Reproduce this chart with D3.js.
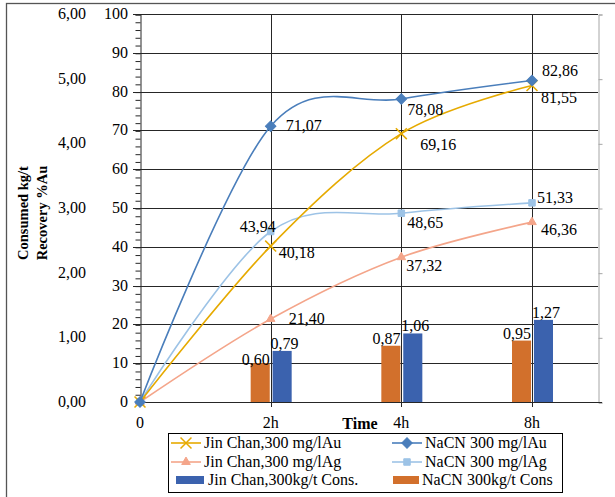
<!DOCTYPE html>
<html>
<head>
<meta charset="utf-8">
<script src="https://cdn.jsdelivr.net/npm/d3@7"></script>
<style>
  body { margin: 0; background: #fff; }
</style>
</head>
<body>
<svg id="svg" width="615" height="497" font-family="'Liberation Serif', 'Times New Roman', Tinos, 'DejaVu Serif', serif"></svg>
<script>
// categories (time)
var times = ["0", "2h", "4h", "8h"];

// recovery %  (left axis)
var jinChanAu = [0, 40.18, 69.16, 81.55];
var nacnAu    = [0, 71.07, 78.08, 82.86];
var jinChanAg = [0, 21.40, 37.32, 46.36];
var nacnAg    = [0, 43.94, 48.65, 51.33];

// consumption kg/t (secondary axis)
var barTimes     = ["2h", "4h", "8h"];
var nacnCons     = [0.60, 0.87, 0.95];
var jinChanCons  = [0.79, 1.06, 1.27];

var leftTicks  = [0, 10, 20, 30, 40, 50, 60, 70, 80, 90, 100];
var rightTicks = [0, 1, 2, 3, 4, 5, 6];

function draw(){
	var svg = d3.select("#svg");
	var fmt = function(v){ return d3.format(".2f")(v).replace(".", ","); };

	// outer frame (cut off right / bottom)
	svg.append("rect")
		.attr("x", 6.5).attr("y", 3.5)
		.attr("width", 640).attr("height", 520)
		.attr("fill", "none").attr("stroke", "#555").attr("stroke-width", 1.3);

	var left = 140, right = 598, top = 14, bottom = 402;

	var scaleX = d3.scalePoint().domain(times).range([left, 532]);
	var scaleY = d3.scaleLinear().domain([0, 100]).range([bottom, top]);
	var scaleY2 = d3.scaleLinear().domain([0, 6]).range([bottom, top]);

	var g = svg.append("g");

	// horizontal grid
	g.selectAll(".hgrid").data(leftTicks.slice(1)).enter().append("line")
		.attr("x1", left - 7).attr("x2", right)
		.attr("y1", function(d){ return Math.round(scaleY(d)) + 0.5; })
		.attr("y2", function(d){ return Math.round(scaleY(d)) + 0.5; })
		.attr("stroke", "#262626").attr("stroke-width", 1);

	// vertical grid
	g.selectAll(".vgrid").data(times.slice(1)).enter().append("line")
		.attr("x1", function(d){ return Math.round(scaleX(d)) + 0.5; })
		.attr("x2", function(d){ return Math.round(scaleX(d)) + 0.5; })
		.attr("y1", top).attr("y2", bottom + 5)
		.attr("stroke", "#262626").attr("stroke-width", 1);

	// left axis with minor ticks
	var axisY = d3.axisLeft(scaleY).tickValues(d3.range(0, 101, 2)).tickSize(5).tickFormat("");
	var gAxisY = g.append("g").attr("transform", "translate(" + (left + 0.5) + ",0.5)").call(axisY);
	gAxisY.selectAll("line").attr("stroke", "#262626");
	gAxisY.select(".domain").attr("stroke", "#262626");
	g.selectAll(".ylab").data(leftTicks).enter().append("text")
		.attr("x", 128).attr("y", function(d){ return scaleY(d) + 5; })
		.attr("text-anchor", "end").attr("font-size", 16).text(function(d){ return d; });

	// secondary axis: ticks on the right, labels far left
	var axisY2 = d3.axisRight(scaleY2).tickValues(rightTicks).tickSize(4).tickFormat("");
	var gAxisY2 = g.append("g").attr("transform", "translate(" + (right + 0.5) + ",0.5)").call(axisY2);
	gAxisY2.selectAll("line").attr("stroke", "#a6a6a6");
	gAxisY2.select(".domain").attr("stroke", "#a6a6a6");
	g.selectAll(".y2lab").data(rightTicks).enter().append("text")
		.attr("x", 86).attr("y", function(d){ return scaleY2(d) + 5; })
		.attr("text-anchor", "end").attr("font-size", 16).text(function(d){ return fmt(d); });

	// x axis
	g.append("line").attr("x1", left).attr("x2", right + 4)
		.attr("y1", bottom + 0.5).attr("y2", bottom + 0.5).attr("stroke", "#262626");
	g.selectAll(".xlab").data(times).enter().append("text")
		.attr("x", function(d){ return scaleX(d); }).attr("y", 428)
		.attr("text-anchor", "middle").attr("font-size", 16).text(function(d){ return d; });
	g.append("text").attr("x", 360).attr("y", 429).attr("text-anchor", "middle")
		.attr("font-size", 16).attr("font-weight", "bold").text("Time");

	// y title
	var yt = g.append("text").attr("transform", "translate(28,213) rotate(-90)")
		.attr("text-anchor", "middle").attr("font-size", 14.5).attr("font-weight", "bold");
	yt.append("tspan").attr("x", 0).attr("dy", 0).text("Consumed kg/t");
	yt.append("tspan").attr("x", 0).attr("dy", 19).text("Recovery %Au");

	// bars
	var barSeries = [
		{name: "NaCN 300kg/t Cons", values: nacnCons, color: "#D2702C"},
		{name: "Jin Chan,300kg/t Cons.", values: jinChanCons, color: "#3B62AE"}
	];
	var inner = d3.scaleBand().domain(barSeries.map(function(s){ return s.name; }))
		.range([-20, 21]).paddingInner(0.13);
	barSeries.forEach(function(s, si){
		var gb = g.append("g");
		gb.selectAll("rect").data(s.values).enter().append("rect")
			.attr("x", function(d, i){ return scaleX(barTimes[i]) + inner(s.name); })
			.attr("y", function(d){ return scaleY2(d); })
			.attr("width", inner.bandwidth())
			.attr("height", function(d){ return bottom - scaleY2(d); })
			.attr("fill", s.color);
		gb.selectAll("text").data(s.values).enter().append("text")
			.attr("x", function(d, i){
				var x0 = scaleX(barTimes[i]) + inner(s.name);
				return si == 0 ? x0 + inner.bandwidth() : x0 - 2;
			})
			.attr("y", function(d, i){ return scaleY2(d) - (si == 0 && i == 0 ? -2 : 2); })
			.attr("text-anchor", si == 0 ? "end" : "start")
			.attr("font-size", 16).text(function(d){ return fmt(d); });
	});

	// lines
	var lineSeries = [
		{name: "Jin Chan,300 mg/lAg", values: jinChanAg, color: "#F4A58A", marker: "tri",
			offs: [[18, 5], [5, 14], [9, 13]]},
		{name: "NaCN 300 mg/lAg", values: nacnAg, color: "#9DC3E6", marker: "square",
			offs: [[-31, 0], [6, 15], [5, 0]]},
		{name: "Jin Chan,300 mg/lAu", values: jinChanAu, color: "#E6AA00", marker: "x",
			offs: [[8, 12], [19, 16], [9, 17]]},
		{name: "NaCN 300 mg/lAu", values: nacnAu, color: "#4A7EBB", marker: "diamond",
			offs: [[15, 5], [6, 16], [10, -5]]}
	];

	var line = d3.line()
		.x(function(d, i){ return scaleX(times[i]); })
		.y(function(d){ return scaleY(d); })
		.curve(d3.curveCardinal.tension(0));

	function marker(sel, type, color){
		if (type == "x") {
			sel.attr("d", d3.symbol().type(d3.symbolX).size(80)())
				.attr("fill", "none").attr("stroke", color).attr("stroke-width", 1.5);
		} else if (type == "diamond") {
			sel.attr("d", d3.symbol().type(d3.symbolSquare).size(55)())
				.attr("fill", color).attr("stroke", color);
		} else if (type == "square") {
			sel.attr("d", d3.symbol().type(d3.symbolSquare).size(42)())
				.attr("fill", color).attr("stroke", color);
		} else {
			sel.attr("d", d3.symbol().type(d3.symbolTriangle).size(32)())
				.attr("fill", color).attr("stroke", color);
		}
	}

	lineSeries.forEach(function(s){
		g.append("path").datum(s.values).attr("d", line)
			.attr("fill", "none").attr("stroke", s.color).attr("stroke-width", 1.6);
		g.selectAll(".m").data(s.values).enter().append("path")
			.attr("transform", function(d, i){
				return "translate(" + scaleX(times[i]) + "," + scaleY(d) + ")" + (s.marker == "diamond" ? " rotate(45)" : "");
			})
			.call(marker, s.marker, s.color);
	});

	lineSeries.forEach(function(s){
		g.selectAll(".l").data(s.values.slice(1)).enter().append("text")
			.attr("x", function(d, i){ return scaleX(times[i + 1]) + s.offs[i][0]; })
			.attr("y", function(d, i){ return scaleY(d) + s.offs[i][1]; })
			.attr("font-size", 16).text(function(d){ return fmt(d); });
	});

	// legend
	var lg = svg.append("g");
	lg.append("rect").attr("x", 168.5).attr("y", 433.5).attr("width", 394).attr("height", 59)
		.attr("fill", "#fff").attr("stroke", "#000");
	var legItems = [
		{s: lineSeries[2], x: 171, y: 443},
		{s: lineSeries[3], x: 392, y: 443},
		{s: lineSeries[0], x: 171, y: 462},
		{s: lineSeries[1], x: 392, y: 462}
	];
	legItems.forEach(function(it){
		lg.append("line").attr("x1", it.x).attr("x2", it.x + 30).attr("y1", it.y).attr("y2", it.y)
			.attr("stroke", it.s.color).attr("stroke-width", 1.6);
		lg.append("path").attr("transform", "translate(" + (it.x + 15) + "," + it.y + ")" + (it.s.marker == "diamond" ? " rotate(45)" : ""))
			.call(marker, it.s.marker, it.s.color);
		lg.append("text").attr("x", it.x + 33).attr("y", it.y + 5).attr("font-size", 16).text(it.s.name);
	});
	var legBars = [
		{s: barSeries[1], x: 176, w: 28, tx: 208},
		{s: barSeries[0], x: 393, w: 26, tx: 422}
	];
	legBars.forEach(function(it){
		lg.append("rect").attr("x", it.x).attr("y", 476).attr("width", it.w).attr("height", 8)
			.attr("fill", it.s.color);
		lg.append("text").attr("x", it.tx).attr("y", 485).attr("font-size", 16).text(it.s.name);
	});
}
draw();
</script>
</body>
</html>
